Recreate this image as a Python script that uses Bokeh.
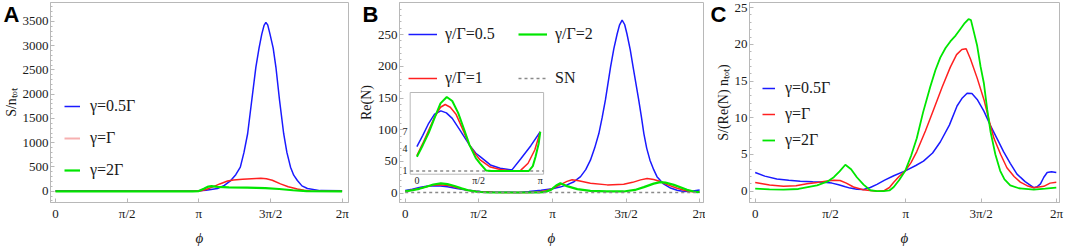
import math
import numpy as np
from bokeh.plotting import figure
from bokeh.layouts import row, column
from bokeh.models import FixedTicker, Legend, LegendItem, Range1d
from bokeh.core.properties import value
from bokeh.embed import file_html
from bokeh.resources import INLINE

PI = math.pi
x_ticks = [0, PI / 2, PI, 3 * PI / 2, 2 * PI]
x_tick_labels = ["0", "π/2", "π", "3π/2", "2π"]
panel_letters = ["A", "B", "C"]

# ---------------- Panel A : S / n_tot ----------------
A_blue = [(0, 10), (1.0, 8), (2.0, 4), (2.8, 4), (3.14, 8), (3.3, 18), (3.55, 55), (3.7, 120),
          (3.84, 220), (3.95, 340), (4.05, 495), (4.13, 800), (4.21, 1185), (4.3, 1870),
          (4.39, 2555), (4.46, 2950), (4.52, 3240), (4.57, 3420), (4.61, 3480), (4.65, 3430),
          (4.7, 3240), (4.77, 2950), (4.83, 2555), (4.91, 1870), (5.0, 1185), (5.07, 800),
          (5.15, 495), (5.22, 330), (5.3, 220), (5.4, 110), (5.52, 55), (5.8, 12), (6.28, 10)]
A_red = [(0, 0), (1.5, 0), (3.0, 0), (3.19, 8), (3.3, 35), (3.45, 90), (3.6, 150), (3.77, 210),
         (3.9, 232), (4.1, 245), (4.3, 258), (4.5, 265), (4.62, 255), (4.75, 225), (4.93, 152),
         (5.1, 92), (5.3, 45), (5.45, 18), (5.59, 5), (6.28, 0)]
A_green = [(0, -5), (1.5, -5), (3.0, -5), (3.14, 2), (3.25, 50), (3.35, 95), (3.42, 105),
           (3.55, 90), (3.8, 78), (4.2, 72), (4.6, 65), (4.9, 45), (5.2, 20), (5.5, 2), (6.28, -5)]
A_labels = ["γ=0.5Γ", "γ=Γ", "γ=2Γ"]
A_yticks = [0, 500, 1000, 1500, 2000, 2500, 3000, 3500]

# ---------------- Panel B : Re(N) ----------------
B_blue = [(0, 4.24), (0.15, 6.3), (0.3, 8.8), (0.45, 10.9), (0.61, 11.7), (0.75, 11.2), (0.9, 9.9),
          (1.1, 7.3), (1.34, 4.5), (1.5, 3.2), (1.61, 2.7), (1.87, 1.64), (2.12, 1.27), (2.42, 1.1),
          (2.64, 2.39), (2.9, 4.41), (3.14, 7), (3.3, 9.5), (3.45, 13), (3.6, 18), (3.74, 26),
          (3.85, 37), (3.95, 52), (4.04, 71), (4.13, 94), (4.2, 119), (4.27, 147), (4.38, 199),
          (4.45, 228), (4.52, 251), (4.57, 265), (4.626, 273), (4.68, 266), (4.73, 251),
          (4.8, 226), (4.86, 199), (4.98, 147), (5.04, 119), (5.09, 94), (5.15, 71), (5.22, 52),
          (5.3, 37), (5.37, 26), (5.5, 15), (5.66, 8), (5.8, 4.5), (5.94, 2.5), (6.1, 2.8), (6.28, 5)]
B_red = [(0, 2.85), (0.15, 4.8), (0.3, 7.3), (0.45, 10.2), (0.6, 12.6), (0.72, 13.3), (0.85, 12.6),
         (1.0, 10.8), (1.15, 7.8), (1.34, 4.5), (1.5, 3.0), (1.61, 2.26), (1.87, 1.4), (2.12, 1.15),
         (2.42, 1.0), (2.64, 1.05), (2.83, 1.84), (3.0, 3.7), (3.14, 7), (3.3, 13), (3.45, 18.5),
         (3.56, 21), (3.7, 19.5), (3.95, 15.7), (4.31, 13), (4.66, 14.1), (4.85, 17), (5.02, 20.9),
         (5.16, 23), (5.3, 21.5), (5.44, 18.3), (5.6, 13), (5.8, 7.8), (5.95, 4.5), (6.08, 2.6),
         (6.28, 1.5)]
B_green = [(0, 2.7), (0.15, 4.5), (0.3, 6.8), (0.45, 10.0), (0.6, 13.6), (0.76, 15.3), (0.9, 14.2),
           (1.05, 11.2), (1.2, 7.5), (1.34, 4.5), (1.5, 2.5), (1.61, 1.8), (1.76, 1.05), (1.9, 1.0),
           (2.85, 1.0), (2.95, 1.5), (3.02, 2.7), (3.1, 4.8), (3.14, 7), (3.22, 12), (3.31, 15.7),
           (3.45, 11), (3.67, 6.3), (3.95, 3.6), (4.3, 2.8), (4.66, 2.6), (4.9, 5), (5.09, 9.4),
           (5.3, 15), (5.44, 17.3), (5.55, 16.5), (5.73, 13), (6.01, 5.2), (6.15, 2.5), (6.23, 1.6),
           (6.28, 2)]
SN_level = 1
B_labels = ["γ/Γ=0.5", "γ/Γ=1", "γ/Γ=2", "SN"]
B_yticks = [0, 50, 100, 150, 200, 250]
inset_yticks = [1, 4, 7]
inset_xticks = [0, PI / 2, PI]
inset_xtick_labels = ["0", "π/2", "π"]
inset_power = 0.62   # non-linear vertical scale of the inset

# ---------------- Panel C : S / (Re(N) n_tot) ----------------
C_blue = [(0, 2.55), (0.2, 2.05), (0.45, 1.67), (0.7, 1.48), (0.94, 1.36), (1.2, 1.28), (1.43, 1.23),
          (1.6, 1.1), (1.74, 0.88), (1.88, 0.6), (1.98, 0.42), (2.12, 0.28), (2.26, 0.22), (2.4, 0.5),
          (2.54, 0.92), (2.7, 1.5), (2.89, 2.1), (3.13, 2.77), (3.35, 3.5), (3.51, 4.1), (3.7, 5.2),
          (3.86, 6.7), (4.05, 9.0), (4.21, 11.6), (4.32, 12.7), (4.42, 13.35), (4.52, 13.3),
          (4.63, 12.5), (4.77, 10.9), (4.91, 8.9), (5.05, 7.1), (5.18, 5.4), (5.32, 3.8), (5.46, 2.33),
          (5.63, 1.3), (5.81, 0.48), (5.88, 0.6), (5.95, 1.0), (6.02, 1.9), (6.09, 2.55), (6.18, 2.65),
          (6.28, 2.55)]
C_red = [(0, 1.19), (0.3, 0.85), (0.59, 0.66), (0.85, 0.75), (1.08, 1.0), (1.3, 1.2), (1.5, 1.4),
         (1.64, 1.5), (1.77, 1.45), (1.9, 1.1), (2.05, 0.57), (2.25, 0.2), (2.54, 0.0), (2.68, 0.05),
         (2.8, 0.5), (2.89, 1.23), (3.0, 2.0), (3.13, 2.77), (3.25, 3.9), (3.37, 5.4), (3.55, 8.2),
         (3.72, 11.1), (3.9, 14.2), (4.07, 16.9), (4.2, 18.6), (4.31, 19.3), (4.4, 19.4), (4.49, 18.0),
         (4.63, 15.4), (4.77, 12.5), (4.88, 9.6), (4.98, 7.2), (5.12, 5.0), (5.25, 3.2), (5.4, 2.0),
         (5.53, 1.23), (5.67, 0.75), (5.81, 0.48), (6.02, 0.66), (6.15, 1.1), (6.28, 1.23)]
C_green = [(0, 0.35), (0.3, 0.25), (0.59, 0.22), (0.9, 0.3), (1.29, 0.8), (1.5, 1.3), (1.64, 1.9),
           (1.76, 2.7), (1.88, 3.6), (2.0, 3.0), (2.12, 1.9), (2.26, 0.9), (2.4, 0.13), (2.54, 0.02),
           (2.68, 0.0), (2.8, 0.1), (2.89, 0.57), (3.0, 1.5), (3.13, 2.77), (3.25, 4.8), (3.37, 7.2),
           (3.5, 10.7), (3.65, 14.2), (3.76, 16.5), (3.86, 18.2), (3.97, 19.5), (4.07, 20.4),
           (4.18, 21.2), (4.28, 22.1), (4.37, 22.9), (4.45, 23.45), (4.5, 23.3), (4.56, 21.7),
           (4.63, 19.8), (4.7, 17.0), (4.77, 14.7), (4.84, 11.1), (4.91, 8.05), (5.01, 5.0),
           (5.11, 2.77), (5.2, 1.6), (5.32, 0.8), (5.5, 0.4), (5.81, 0.22), (6.05, 0.35), (6.28, 0.48)]
C_labels = ["γ=0.5Γ", "γ=Γ", "γ=2Γ"]
C_yticks = [0, 5, 10, 15, 20, 25]

# ---------------- styling ----------------
BLUE = "#1a1aff"
RED = "#ff2020"
GREEN = "#00e600"
PINK = "#f7b0b0"
SERIF = "Liberation Serif"
FRAME = "#b8b8b8"
W_TOTAL = 1065
H = 249
LETTER_H = 26


def xy(pairs):
    a = np.array(pairs, dtype=float)
    return a[:, 0], a[:, 1]


def style(p, yticks, ystep, ylabel):
    p.xgrid.visible = False
    p.ygrid.visible = False
    p.outline_line_color = FRAME
    p.background_fill_color = "white"
    p.border_fill_alpha = 0
    p.xaxis.ticker = FixedTicker(ticks=x_ticks, minor_ticks=[])
    p.xaxis.major_label_overrides = dict(zip(x_ticks, x_tick_labels))
    minor = list(np.arange(yticks[0] - 2 * ystep, yticks[-1] + 6 * ystep, ystep))
    p.yaxis.ticker = FixedTicker(ticks=yticks, minor_ticks=minor)
    for ax in p.axis:
        ax.axis_line_color = FRAME
        ax.major_tick_line_color = FRAME
        ax.minor_tick_line_color = FRAME
        ax.major_tick_in = 4
        ax.major_tick_out = 0
        ax.minor_tick_in = 2
        ax.minor_tick_out = 0
        ax.major_label_text_font = SERIF
        ax.major_label_text_font_size = "13px"
        ax.major_label_text_color = "#1a1a1a"
        ax.axis_label_text_font = SERIF
        ax.axis_label_text_color = "#1a1a1a"
    p.xaxis.major_label_standoff = 3
    p.xaxis.axis_label_standoff = 6
    p.yaxis.major_label_standoff = 2
    p.yaxis.axis_label_standoff = 1
    p.xaxis.axis_label = "ϕ"
    p.xaxis.axis_label_text_font_style = "italic"
    p.xaxis.axis_label_text_font_size = "15px"
    p.yaxis.axis_label = ylabel
    p.yaxis.axis_label_text_font_style = "normal"
    p.yaxis.axis_label_text_font_size = "14px"


def legend(items, loc, spacing, gw, standoff, size):
    return Legend(items=items, location=loc, spacing=spacing, padding=0, margin=0,
                  background_fill_alpha=0, border_line_alpha=0, label_height=20,
                  glyph_height=20, glyph_width=gw, label_standoff=standoff,
                  label_text_font=SERIF, label_text_font_size=size, label_text_color="#1a1a1a")


# ---------------- Panel A ----------------
pA = figure(width=355, height=H, x_range=Range1d(-0.109, 6.42), y_range=Range1d(-233, 3891),
            output_backend="svg", toolbar_location=None,
            min_border_left=49, min_border_right=7, min_border_top=2, min_border_bottom=47)
style(pA, A_yticks, 100, "S/nₜₒₜ")
xa, ya = xy(A_blue)
rAb = pA.line(xa, ya, color=BLUE, line_width=1.5)
xa, ya = xy(A_red)
rAr = pA.line(xa, ya, color=RED, line_width=1.5)
xa, ya = xy(A_green)
rAg = pA.line(xa, ya, color=GREEN, line_width=2.2)
rApink = pA.line([np.nan], [np.nan], color=PINK, line_width=2)
pA.add_layout(legend([LegendItem(label=A_labels[0], renderers=[rAb]),
                      LegendItem(label=A_labels[1], renderers=[rApink]),
                      LegendItem(label=A_labels[2], renderers=[rAg])],
                     (14, 22), 12, 16, 10, "16px"))

# ---------------- Panel B ----------------
pB = figure(width=350, height=H, x_range=Range1d(-0.122, 6.362), y_range=Range1d(-14.8, 300.7),
            output_backend="svg", toolbar_location=None,
            min_border_left=44, min_border_right=2, min_border_top=2, min_border_bottom=47)
style(pB, B_yticks, 10, "Re(N)")
xb, yb = xy(B_blue)
rBb = pB.line(xb, yb, color=BLUE, line_width=1.5)
xr, yr = xy(B_red)
rBr = pB.line(xr, yr, color=RED, line_width=1.5)
xg, yg = xy(B_green)
rBg = pB.line(xg, yg, color=GREEN, line_width=2.2)
rSN = pB.line([x_ticks[0], x_ticks[-1]], [SN_level, SN_level], color="#8a8a8a",
              line_width=1.5, line_dash="3 3")

# inset: its own scales mapped into a sub-box of the frame
pB.extra_x_ranges = {"ix": Range1d(-0.443, 7.295)}
pB.extra_y_ranges = {"iy": Range1d(-0.89, 11.08)}
ibox = dict(left=-0.171, right=3.225, bottom=0.803, top=5.693)
pB.quad(**ibox, fill_color="white", line_color=FRAME, line_width=1,
        x_range_name="ix", y_range_name="iy")
pB.line([ibox["left"], ibox["right"]], [SN_level ** inset_power] * 2, color="#8a8a8a",
        line_width=1.5, line_dash="3 3", x_range_name="ix", y_range_name="iy")
for (xs, ys, c, w) in [(xb, yb, BLUE, 1.5), (xr, yr, RED, 1.5), (xg, yg, GREEN, 2.0)]:
    m = xs <= PI + 1e-6
    pB.line(xs[m], ys[m] ** inset_power, color=c, line_width=w,
            x_range_name="ix", y_range_name="iy")
pB.text(x=inset_xticks, y=[0.45] * 3, text=inset_xtick_labels, text_font=value(SERIF),
        text_font_size="10px", text_align="center", text_baseline="middle",
        text_color="#1a1a1a", x_range_name="ix", y_range_name="iy")
pB.text(x=[-0.24] * 3, y=[v ** inset_power for v in inset_yticks],
        text=[str(v) for v in inset_yticks], text_font=value(SERIF),
        text_font_size="10px", text_align="right", text_baseline="middle",
        text_color="#1a1a1a", x_range_name="ix", y_range_name="iy")

pB.add_layout(legend([LegendItem(label=B_labels[0], renderers=[rBb]),
                      LegendItem(label=B_labels[1], renderers=[rBr])],
                     (9, 114), 24, 29, 8, "16px"))
pB.add_layout(legend([LegendItem(label=B_labels[2], renderers=[rBg]),
                      LegendItem(label=B_labels[3], renderers=[rSN])],
                     (119, 114), 24, 29, 8, "16px"))

# ---------------- Panel C ----------------
pC = figure(width=360, height=H, x_range=Range1d(-0.119, 6.347), y_range=Range1d(-1.54, 25.7),
            output_backend="svg", toolbar_location=None,
            min_border_left=44, min_border_right=6, min_border_top=2, min_border_bottom=44)
style(pC, C_yticks, 1, "S/(Re(N) nₜₒₜ)")
xc, yc = xy(C_blue)
rCb = pC.line(xc, yc, color=BLUE, line_width=1.5)
xc, yc = xy(C_red)
rCr = pC.line(xc, yc, color=RED, line_width=1.5)
xc, yc = xy(C_green)
rCg = pC.line(xc, yc, color=GREEN, line_width=1.8)
pC.add_layout(legend([LegendItem(label=C_labels[0], renderers=[rCb]),
                      LegendItem(label=C_labels[1], renderers=[rCr]),
                      LegendItem(label=C_labels[2], renderers=[rCg])],
                     (13, 52), 6, 13, 10, "16px"))

# ---------------- panel letters (a transparent strip overlapping the plots' top) ----------------
pL = figure(width=W_TOTAL, height=LETTER_H, x_range=Range1d(0, W_TOTAL), y_range=Range1d(0, LETTER_H),
            output_backend="svg", toolbar_location=None, x_axis_type=None, y_axis_type=None,
            min_border=0)
pL.xgrid.visible = False
pL.ygrid.visible = False
pL.outline_line_color = None
pL.background_fill_alpha = 0
pL.border_fill_alpha = 0
pL.text(x=[3, 362, 710], y=[LETTER_H - 1] * 3, text=panel_letters,
        text_font=value("Liberation Sans"), text_font_style="bold", text_font_size="22px",
        text_baseline="top", text_align="left", text_color="#000000")

plots = row(pA, pB, pC, margin=(-LETTER_H, 0, 0, 0))
layout = column(pL, plots)
open("out.html", "w").write(file_html(layout, INLINE))
